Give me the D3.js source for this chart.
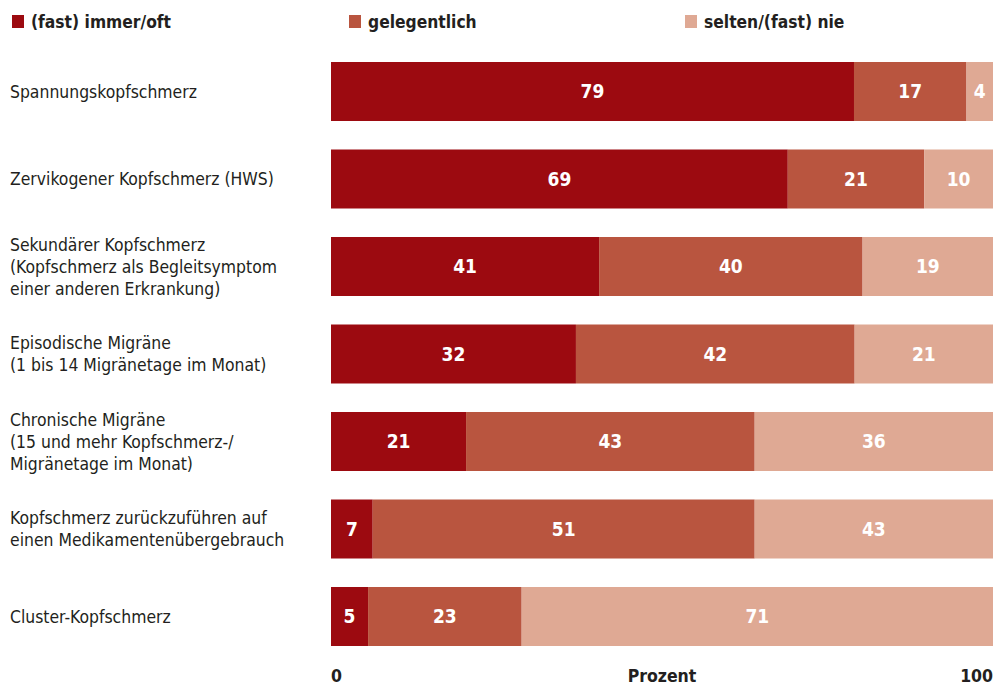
<!DOCTYPE html>
<html lang="de">
<head>
<meta charset="UTF-8">
<title>Kopfschmerz</title>
<script src="https://d3js.org/d3.v7.min.js"></script>
<style>
    body { margin: 0; background: #fff; }
    svg { display: block; font-family: "Liberation Sans Narrow", "Arial Narrow", "DejaVu Sans Condensed", sans-serif; }
    .cat { font-size: 17.4px; fill: #231f20; }
    .leg { font-size: 17.3px; font-weight: bold; fill: #231f20; }
    .val { font-size: 19px; font-weight: bold; fill: #fff; }
    .axis-lbl { font-size: 17.5px; font-weight: bold; fill: #231f20; }
</style>
</head>
<body>
<svg id="chart" width="996" height="686"></svg>
<script>
    // categories (line breaks as in the original)
    const categories = [
        ["Spannungskopfschmerz"],
        ["Zervikogener Kopfschmerz (HWS)"],
        ["Sekundärer Kopfschmerz", "(Kopfschmerz als Begleitsymptom", "einer anderen Erkrankung)"],
        ["Episodische Migräne", "(1 bis 14 Migränetage im Monat)"],
        ["Chronische Migräne", "(15 und mehr Kopfschmerz-/", "Migränetage im Monat)"],
        ["Kopfschmerz zurückzuführen auf", "einen Medikamentenübergebrauch"],
        ["Cluster-Kopfschmerz"]
    ];

    const seriesNames = ["(fast) immer/oft", "gelegentlich", "selten/(fast) nie"];
    const colors = ["#9c0a10", "#b9553f", "#dfa994"];

    // segment lengths as drawn in the picture (percent)
    const oft = [79, 69, 40.5, 37, 20.4, 6.3, 5.6];
    const gelegentlich = [17, 20.6, 39.8, 42.1, 43.6, 57.7, 23.2];
    const selten = [4, 10.4, 19.7, 20.9, 36, 36, 71.2];

    // numbers printed in the segments
    const oftLabels = ["79", "69", "41", "32", "21", "7", "5"];
    const gelegentlichLabels = ["17", "21", "40", "42", "43", "51", "23"];
    const seltenLabels = ["4", "10", "19", "21", "36", "43", "71"];

    const xTicks = ["0", "100"];
    const axisTitle = "Prozent";

    const svg = d3.select("#chart");

    const x = d3.scaleLinear().domain([0, 100]).range([331, 993]);
    const y = d3.scaleBand()
        .domain(d3.range(categories.length))
        .range([62, 646])
        .paddingInner(0.3257)
        .paddingOuter(0);

    const rows = categories.map((c, i) => ({
        idx: i,
        vals: [oft[i], gelegentlich[i], selten[i]],
        labels: [oftLabels[i], gelegentlichLabels[i], seltenLabels[i]]
    }));

    const stack = d3.stack().keys([0, 1, 2]).value((d, k) => d.vals[k]);
    const series = stack(rows);

    // bars
    const layers = svg.selectAll(".layer")
        .data(series)
        .enter().append("g")
        .attr("class", "layer")
        .attr("fill", d => colors[d.key]);

    layers.selectAll("rect")
        .data(d => d)
        .enter().append("rect")
        .attr("x", d => x(d[0]))
        .attr("y", d => y(d.data.idx))
        .attr("width", d => x(d[1]) - x(d[0]))
        .attr("height", y.bandwidth());

    // value labels
    layers.selectAll("text")
        .data(d => d.map(s => ({ s: s, key: d.key })))
        .enter().append("text")
        .attr("class", "val")
        .attr("x", d => (x(d.s[0]) + x(d.s[1])) / 2)
        .attr("y", d => y(d.s.data.idx) + y.bandwidth() / 2)
        .attr("dy", "0.36em")
        .attr("text-anchor", "middle")
        .text(d => d.s.data.labels[d.key]);

    // category labels
    const lineH = 22;
    const cats = svg.selectAll(".cat")
        .data(categories)
        .enter().append("text")
        .attr("class", "cat")
        .attr("x", 10)
        .attr("y", (d, i) => y(i) + y.bandwidth() / 2 - (d.length - 1) * lineH / 2);

    cats.selectAll("tspan")
        .data(d => d)
        .enter().append("tspan")
        .attr("x", 10)
        .attr("dy", (d, i) => i === 0 ? "0.36em" : lineH)
        .text(d => d);

    // legend
    const legX = [12, 349, 685];
    const leg = svg.selectAll(".legend")
        .data(seriesNames)
        .enter().append("g")
        .attr("class", "legend")
        .attr("transform", (d, i) => `translate(${legX[i]},15)`);

    leg.append("rect")
        .attr("width", 12)
        .attr("height", 13)
        .attr("fill", (d, i) => colors[i]);

    leg.append("text")
        .attr("class", "leg")
        .attr("x", 19)
        .attr("y", 7)
        .attr("dy", "0.36em")
        .text(d => d);

    // axis labels
    svg.append("text").attr("class", "axis-lbl")
        .attr("x", x(0)).attr("y", 682)
        .attr("text-anchor", "start").text(xTicks[0]);
    svg.append("text").attr("class", "axis-lbl")
        .attr("x", x(50)).attr("y", 682)
        .attr("text-anchor", "middle").text(axisTitle);
    svg.append("text").attr("class", "axis-lbl")
        .attr("x", x(100)).attr("y", 682)
        .attr("text-anchor", "end").text(xTicks[1]);
</script>
</body>
</html>
